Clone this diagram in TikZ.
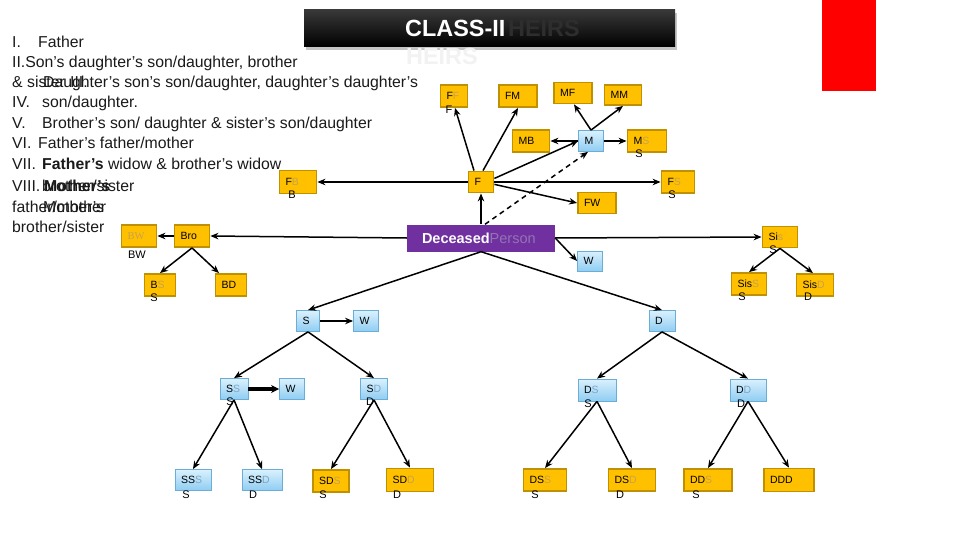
\documentclass[tikz,border=0pt]{standalone}
\usepackage{fontspec}
\setmainfont{Liberation Sans}
\newfontfamily\seriff{Liberation Serif}
\usetikzlibrary{arrows.meta,shadows}
\definecolor{gold}{HTML}{FFC000}
\definecolor{goldborder}{HTML}{BF9000}
\definecolor{bluetop}{HTML}{DAF1FD}
\definecolor{bluebot}{HTML}{8FCDF2}
\definecolor{blueborder}{HTML}{6AAED8}
\definecolor{purp}{HTML}{7030A0}
\definecolor{purpfade}{HTML}{9274B4}
\definecolor{fadeg}{HTML}{C9A24C}
\definecolor{fadeb}{HTML}{7EA6C6}
\definecolor{txt}{HTML}{1A1A1A}
\newcommand{\fg}[1]{\textcolor{fadeg}{#1}}
\newcommand{\fb}[1]{\textcolor{fadeb}{#1}}
\tikzset{
  boxbase/.style={inner xsep=6pt, inner ysep=0pt, align=left,
    font=\fontsize{10.5}{12}\selectfont, text height=7.6pt, text depth=0pt},
  gbox/.style={boxbase, draw=goldborder, fill=gold, line width=1.8pt},
  bbox/.style={boxbase, draw=blueborder, top color=bluetop, bottom color=bluebot, line width=0.8pt},
  sz/.style 2 args={text width=#1, minimum height=#2},
  subt/.style={font=\fontsize{11}{12}\selectfont, inner sep=0pt, text=black},
  arr/.style={line width=1.5pt, -{Stealth[length=8pt,width=6.5pt]}},
  listtxt/.style={anchor=base west, inner sep=0pt, text=txt, font=\fontsize{15.8}{19}\selectfont},
  titletxt/.style={anchor=base west, inner sep=0pt, font=\fontsize{23.4}{26}\selectfont\bfseries},
}
\begin{document}
\begin{tikzpicture}[x=1pt,y=-1pt]
\path[use as bounding box, fill=white] (0,0) rectangle (960,540);

% title
\node[minimum width=371pt, minimum height=37pt, inner sep=0pt, top color=black!78, bottom color=black,
      drop shadow={opacity=0.45, shadow xshift=2pt, shadow yshift=-3pt}] (title) at (489.5,28.5) {};
\node[titletxt, text=black!82] (heirsA) at (508,37) {HEIRS};
\node[titletxt, text=white] (classii) at (405,37) {CLASS-II};
\node[titletxt, text=black!5] (heirsB) at (406,65) {HEIRS};

% red bar
\node[fill=red, minimum width=54pt, minimum height=91pt, inner sep=0pt] (redbar) at (849,45.5) {};

% list text
\node[listtxt] (l1a) at (12,48) {I.};
\node[listtxt] (l1b) at (38,48) {Father};
\node[listtxt] (l2) at (12,68) {II.Son's daughter's son/daughter, brother};
\node[listtxt] (l3a) at (12,88) {\& sister};
\node[listtxt] (l3b) at (70,88) {III.};
\node[listtxt] (l3c) at (43,88) {Daughter's son's son/daughter, daughter's daughter's};
\node[listtxt] (l4a) at (12,108) {IV.};
\node[listtxt] (l4b) at (42,108) {son/daughter.};
\node[listtxt] (l5a) at (12,129) {V.};
\node[listtxt] (l5b) at (42,129) {Brother's son/ daughter \& sister's son/daughter};
\node[listtxt] (l6a) at (12,149) {VI.};
\node[listtxt] (l6b) at (38,149) {Father's father/mother};
\node[listtxt] (l7a) at (12,170) {VII.};
\node[listtxt] (l7b) at (42,170) {\textbf{Father's} widow \& brother's widow};
\node[listtxt] (l8a) at (12,191) {VIII.};
\node[listtxt] (l8b) at (42,191) {brother/sister};
\node[listtxt] (l8c) at (44,191) {\textbf{Mother's}};
\node[listtxt] (l9a) at (12,212) {father/mother};
\node[listtxt] (l9b) at (43,212) {Mother's};
\node[listtxt] (l10) at (12,232) {brother/sister};

% top family
\node[gbox, sz={15pt}{22pt}] (FF) at (454,96) {F\fg{F}};
\node[gbox, sz={26pt}{22pt}] (FM) at (518,96) {FM};
\node[gbox, sz={26pt}{21pt}] (MF) at (573,93) {MF};
\node[gbox, sz={25pt}{20pt}] (MM) at (623,95) {MM};
\node[gbox, sz={25pt}{22pt}] (MB) at (531,141) {MB};
\node[bbox, sz={13pt}{21pt}] (M) at (591,141) {M};
\node[gbox, sz={27pt}{22pt}] (MS) at (647,141) {M\fg{S}};
\node[gbox, sz={13pt}{21pt}] (F) at (481,182) {F};
\node[gbox, sz={21pt}{22pt}] (FS) at (678,182) {F\fg{S}};
\node[gbox, sz={26pt}{21pt}] (FW) at (597,203) {FW};
\node[gbox, sz={25pt}{23pt}] (FB) at (298,182) {F\fg{B}};

% deceased
\node[fill=purp, inner xsep=15pt, inner ysep=0pt, text width=118pt, minimum height=27pt, align=left,
      text height=10.5pt, text depth=0pt] (Dec) at (481,238)
      {\mbox{\fontsize{14.5}{16}\selectfont\textcolor{white}{\bfseries Deceased}\textcolor{purpfade}{Person}}};
\node[bbox, sz={13pt}{20pt}] (W1) at (590,261) {W};

% siblings
\node[gbox, sz={23pt}{21pt}] (Sis) at (780,237) {Si\fg{s}};
\node[gbox, sz={23pt}{22pt}] (SisS) at (749,284) {Sis\fg{S}};
\node[gbox, sz={25pt}{22pt}] (SisD) at (815,285) {Sis\fg{D}};
\node[gbox, sz={23pt}{22pt}] (Bro) at (192,236) {Bro};
\node[gbox, sz={23pt}{22pt}] (BW) at (139,236) {\seriff\fg{BW}};
\node[gbox, sz={19pt}{22pt}] (BS) at (160,285) {B\fg{S}};
\node[gbox, sz={19pt}{22pt}] (BD) at (231,285) {BD};

% descendants
\node[bbox, sz={11pt}{21pt}] (S) at (308,321) {S};
\node[bbox, sz={13pt}{21pt}] (W2) at (366,321) {W};
\node[bbox, sz={14pt}{21pt}] (D) at (662,321) {D};
\node[bbox, sz={16pt}{21pt}] (SS) at (234,389) {S\fb{S}};
\node[bbox, sz={13pt}{21pt}] (W3) at (292,389) {W};
\node[bbox, sz={15pt}{21pt}] (SD) at (374,389) {S\fb{D}};
\node[bbox, sz={26pt}{22pt}] (DS) at (597,390) {D\fb{S}};
\node[bbox, sz={24pt}{22pt}] (DD) at (748,390) {D\fb{D}};
\node[bbox, sz={24pt}{21pt}] (SSS) at (193,480) {SS\fb{S}};
\node[bbox, sz={28pt}{21pt}] (SSD) at (262,480) {SS\fb{D}};
\node[gbox, sz={24pt}{22pt}] (SDS) at (331,481) {SD\fg{S}};
\node[gbox, sz={35pt}{23pt}] (SDD) at (410,480) {SD\fg{D}};
\node[gbox, sz={31pt}{22pt}] (DSS) at (545,480) {DS\fg{S}};
\node[gbox, sz={35pt}{22pt}] (DSD) at (632,480) {DS\fg{D}};
\node[gbox, sz={36pt}{22pt}] (DDS) at (708,480) {DD\fg{S}};
\node[gbox, sz={38pt}{23pt}] (DDD) at (789,480) {DDD};

% connectors
\draw[arr] ([xshift=-7pt]F.north) -- ([xshift=1pt]FF.south);
\draw[arr] ([xshift=2pt]F.north) -- (FM.south);
\draw[arr] (F.15) -- (M.west);
\draw[arr] (F.east) -- (FS.west);
\draw[arr] (F.-10) -- (FW.west);
\draw[arr] (F.west) -- (FB.east);
\draw[arr] (M.north) -- ([xshift=1pt]MF.south);
\draw[arr] (M.north) -- (MM.south);
\draw[arr] (M.west) -- (MB.east);
\draw[arr] (M.east) -- (MS.west);
\draw[arr] (Dec.north) -- (F.south);
\draw[arr, dash pattern=on 5pt off 4pt] ([xshift=4pt]Dec.north) -- ([xshift=-3pt]M.south);
\draw[arr] (Dec.west) -- (Bro.east);
\draw[arr] (Dec.east) -- (Sis.west);
\draw[arr] (Dec.east) -- (W1.west);
\draw[arr] (Dec.south) -- (S.north);
\draw[arr] (Dec.south) -- (D.north);
\draw[arr] (Bro.west) -- (BW.east);
\draw[arr] (Bro.south) -- (BS.north);
\draw[arr] (Bro.south) -- ([xshift=-12pt]BD.north);
\draw[arr] (Sis.south) -- (SisS.north);
\draw[arr] (Sis.south) -- ([xshift=-2pt]SisD.north);
\draw[arr] (S.east) -- (W2.west);
\draw[arr] (S.south) -- (SS.north);
\draw[arr] (S.south) -- (SD.north);
\draw[line width=3.5pt, -{Stealth[length=8pt,width=8pt]}] (SS.east) -- (W3.west);
\draw[arr] (SS.south) -- (SSS.north);
\draw[arr] (SS.south) -- (SSD.north);
\draw[arr] (SD.south) -- (SDS.north);
\draw[arr] (SD.south) -- (SDD.north);
\draw[arr] (D.south) -- (DS.north);
\draw[arr] (D.south) -- (DD.north);
\draw[arr] (DS.south) -- (DSS.north);
\draw[arr] (DS.south) -- (DSD.north);
\draw[arr] (DD.south) -- (DDS.north);
\draw[arr] (DD.south) -- (DDD.north);

% overflow letters below boxes
\node[subt] (FFx) at (449,110) {F};
\node[subt] (MSx) at (639,154) {S};
\node[subt] (FSx) at (672,195) {S};
\node[subt] (FBx) at (292,195) {B};
\node[subt] (Sisx) at (773,250) {S};
\node[subt] (SisSx) at (742,297) {S};
\node[subt] (SisDx) at (808,297) {D};
\node[subt] (BWx) at (137,255) {BW};
\node[subt] (BSx) at (154,298) {S};
\node[subt] (SSx) at (230,402) {S};
\node[subt] (SDx) at (370,402) {D};
\node[subt] (DSx) at (588,404) {S};
\node[subt] (DDx) at (741,404) {D};
\node[subt] (SSSx) at (186,495) {S};
\node[subt] (SSDx) at (253,495) {D};
\node[subt] (SDSx) at (323,495) {S};
\node[subt] (SDDx) at (397,495) {D};
\node[subt] (DSSx) at (535,495) {S};
\node[subt] (DSDx) at (620,495) {D};
\node[subt] (DDSx) at (696,495) {S};
\end{tikzpicture}
\end{document}
